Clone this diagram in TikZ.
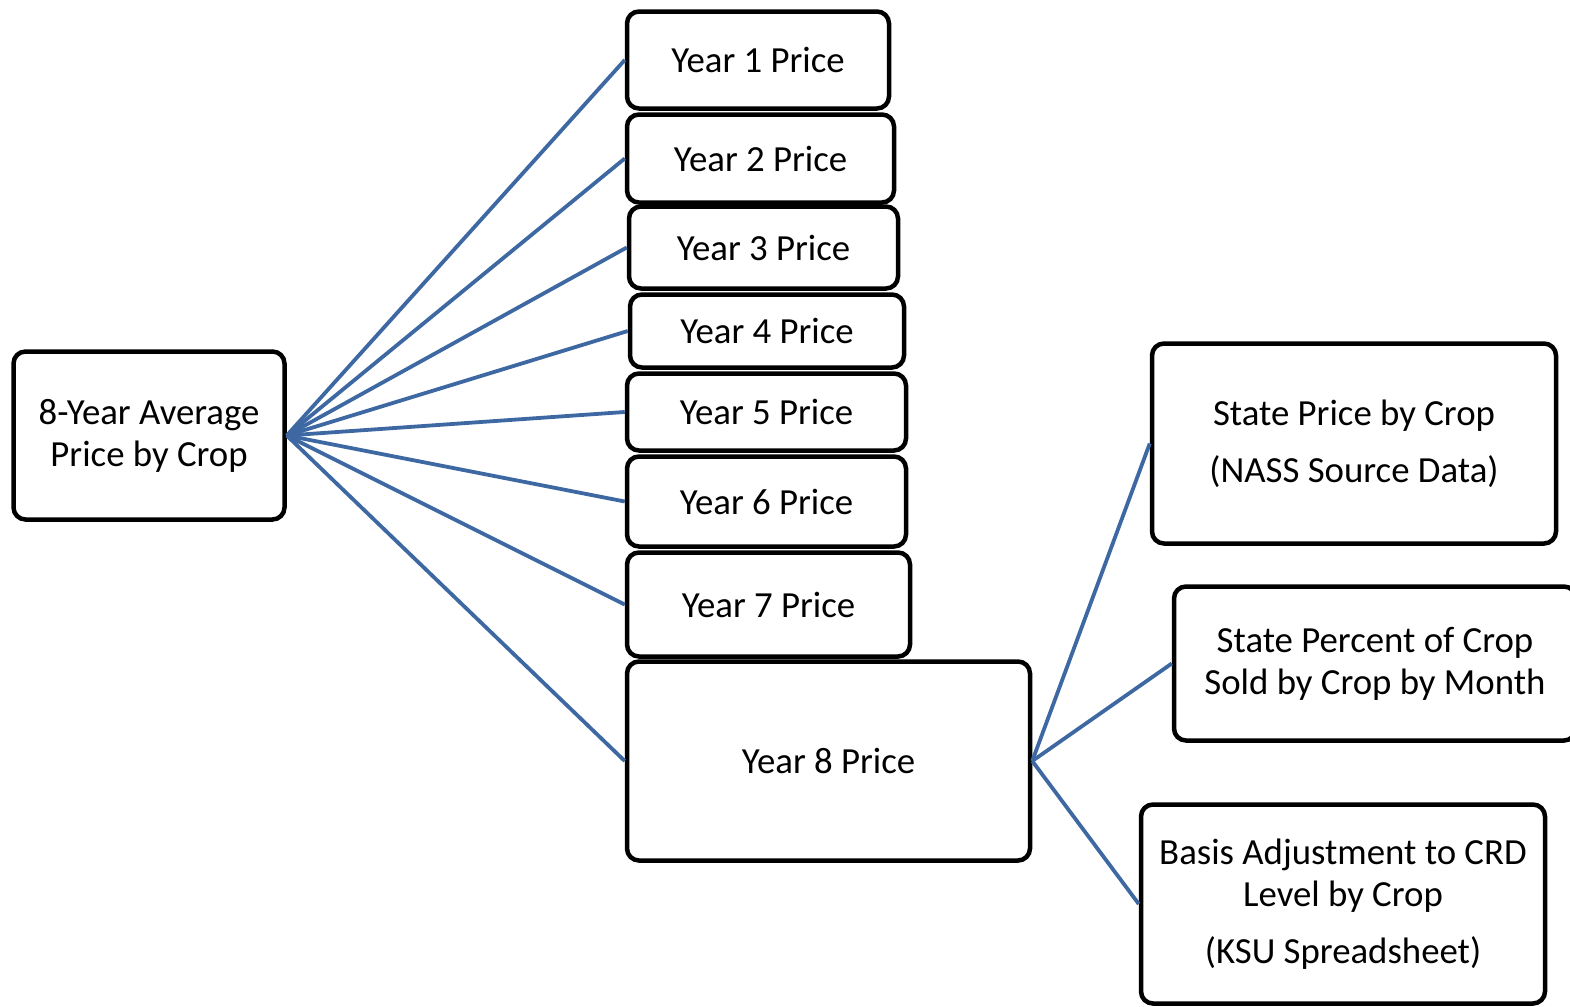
\documentclass[tikz,border=0pt]{standalone}
\usepackage{fontspec}
\setmainfont{Carlito}

\tikzset{every picture/.style={line width=0.75pt}}
\tikzset{box/.style={draw=black, line width=2.25pt, rounded corners=6pt, fill=white, align=center, inner sep=0pt, font=\fontsize{18.4}{21}\selectfont}}
\tikzset{link/.style={color={rgb, 255:red, 62; green, 104; blue, 162 }, draw opacity=1, line width=1.9pt}}

\begin{document}
\begin{tikzpicture}[x=0.5pt,y=0.5pt,yscale=-1,xscale=1]
\useasboundingbox (0,0) rectangle (1570,1007);

% Text Node
\draw (149,435.5) node [box, minimum width=135.5pt, minimum height=84pt] (avg) {8-Year Average\\Price by Crop};
% Text Node
\draw (758,60) node [box, minimum width=131pt, minimum height=48.5pt] (yr1) {Year 1 Price};
% Text Node
\draw (760.5,158.5) node [box, minimum width=133.5pt, minimum height=44pt] (yr2) {Year 2 Price};
% Text Node
\draw (763.5,247.5) node [box, minimum width=134.5pt, minimum height=41pt] (yr3) {Year 3 Price};
% Text Node
\draw (767,331) node [box, minimum width=137pt, minimum height=36.5pt] (yr4) {Year 4 Price};
% Text Node
\draw (766.5,412) node [box, minimum width=139.5pt, minimum height=38.5pt] (yr5) {Year 5 Price};
% Text Node
\draw (766.5,501.5) node [box, minimum width=139.5pt, minimum height=45pt] (yr6) {Year 6 Price};
% Text Node
\draw (768.5,604.5) node [box, minimum width=141.5pt, minimum height=52pt] (yr7) {Year 7 Price};
% Text Node
\draw (828.5,761) node [box, minimum width=201.5pt, minimum height=99.5pt] (yr8) {Year 8 Price};

% Text Node
\draw (1354,443.5) node [box, minimum width=202pt, minimum height=100pt] (nass) {State Price by Crop\\[7.5pt](NASS Source Data)};
% Text Node
\draw (1375,663.5) node [box, minimum width=201pt, minimum height=77pt] (sold) {State Percent of Crop\\Sold by Crop by Month};
% Text Node
\draw (1343,904) node [box, minimum width=202pt, minimum height=99.5pt] (ksu) {Basis Adjustment to CRD\\Level by Crop\\[7.5pt](KSU Spreadsheet)};

%Straight Lines
\foreach \yr in {yr1,yr2,yr3,yr4,yr5,yr6,yr7,yr8}
  \draw [link] (avg.east) -- (\yr.west) ;

%Straight Lines
\foreach \src in {nass,sold,ksu}
  \draw [link] (yr8.east) -- (\src.west) ;

\end{tikzpicture}
\end{document}
